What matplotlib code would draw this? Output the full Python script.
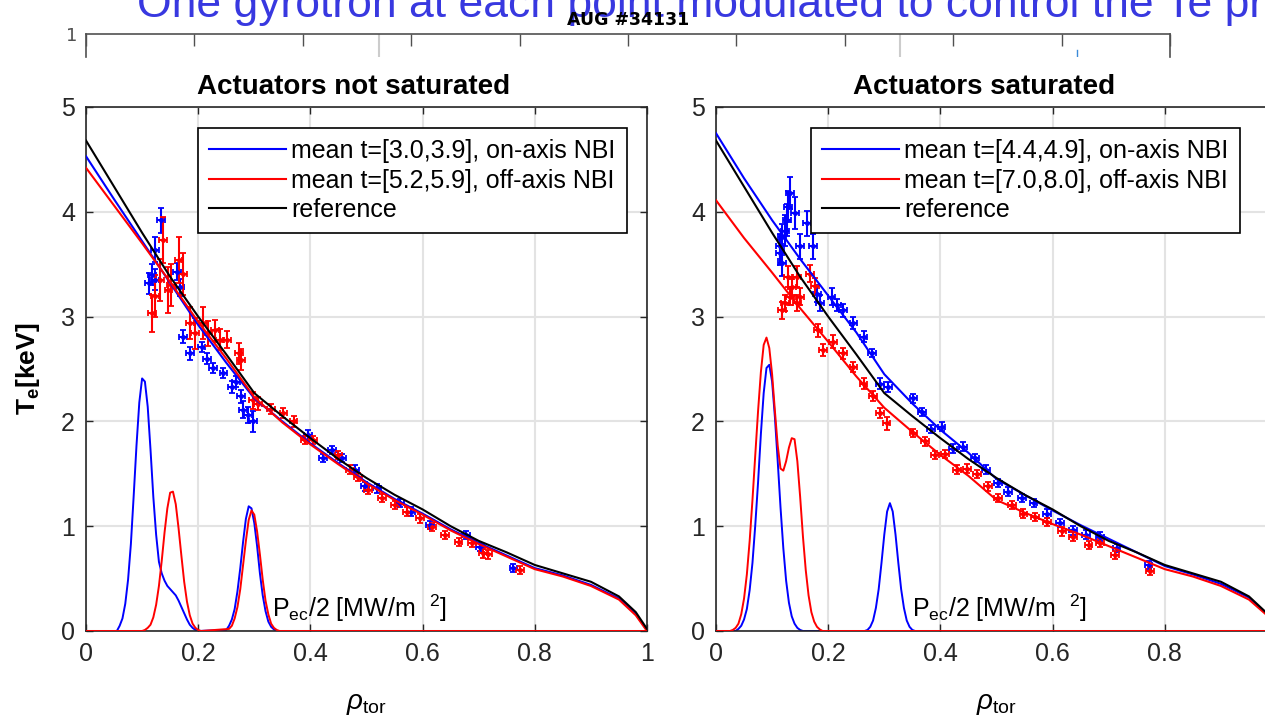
import matplotlib.pyplot as plt

plt.rcParams['font.family'] = ['Liberation Sans', 'DejaVu Sans']
plt.rcParams['mathtext.fontset'] = 'custom'
plt.rcParams['mathtext.rm'] = 'Liberation Sans'
plt.rcParams['mathtext.it'] = 'Liberation Sans:italic'
plt.rcParams['mathtext.bf'] = 'Liberation Sans:bold'

# ---- Te profile fits (rho_tor grid) ----
rho = [0.0, 0.05, 0.1, 0.15, 0.2, 0.25, 0.3, 0.35, 0.4, 0.45, 0.5, 0.55,
       0.6, 0.65, 0.7, 0.75, 0.8, 0.85, 0.9, 0.95, 0.98, 1.0]
te_ref = [4.68, 4.24, 3.80, 3.38, 3.00, 2.64, 2.27, 2.05, 1.84, 1.64, 1.46, 1.30,
          1.16, 1.00, 0.86, 0.75, 0.63, 0.55, 0.47, 0.33, 0.18, 0.02]
te_left_on = [4.53, 4.12, 3.72, 3.32, 2.92, 2.56, 2.22, 2.00, 1.79, 1.60, 1.42, 1.26,
              1.12, 0.97, 0.84, 0.72, 0.60, 0.53, 0.44, 0.31, 0.16, 0.01]
te_left_off = [4.42, 4.06, 3.70, 3.33, 2.95, 2.60, 2.23, 1.99, 1.78, 1.59, 1.41, 1.25,
               1.11, 0.96, 0.83, 0.71, 0.59, 0.52, 0.43, 0.30, 0.15, 0.0]
te_right_on = [4.75, 4.32, 3.92, 3.55, 3.20, 2.85, 2.45, 2.17, 1.92, 1.70, 1.45, 1.30,
               1.15, 1.01, 0.88, 0.75, 0.62, 0.54, 0.45, 0.32, 0.17, 0.02]
te_right_off = [4.11, 3.75, 3.42, 3.08, 2.76, 2.43, 2.13, 1.90, 1.68, 1.48, 1.25, 1.13,
                1.02, 0.92, 0.81, 0.70, 0.59, 0.52, 0.43, 0.30, 0.16, 0.01]

# ---- measured Te points ----
l_on_x = [0.113, 0.117, 0.123, 0.123, 0.134, 0.162, 0.168, 0.173, 0.185, 0.206, 0.215,
          0.227, 0.245, 0.260, 0.268, 0.277, 0.280, 0.289, 0.298, 0.396, 0.423, 0.438,
          0.456, 0.480, 0.497, 0.518, 0.560, 0.580, 0.613, 0.678, 0.702, 0.762]
l_on_y = [3.32, 3.40, 3.64, 3.35, 3.92, 3.43, 3.28, 2.81, 2.65, 2.71, 2.60,
          2.51, 2.46, 2.33, 2.38, 2.24, 2.11, 2.06, 2.00, 1.87, 1.65, 1.73,
          1.65, 1.54, 1.38, 1.36, 1.22, 1.14, 1.01, 0.915, 0.80, 0.60]
l_on_e = [0.10, 0.10, 0.12, 0.10, 0.12, 0.08, 0.08, 0.06, 0.06, 0.05, 0.05,
          0.05, 0.05, 0.06, 0.05, 0.06, 0.08, 0.08, 0.10, 0.05, 0.04, 0.04,
          0.04, 0.04, 0.04, 0.04, 0.04, 0.04, 0.04, 0.04, 0.04, 0.04]

l_off_x = [0.117, 0.123, 0.132, 0.138, 0.147, 0.152, 0.165, 0.173, 0.185, 0.194, 0.209,
           0.218, 0.230, 0.239, 0.251, 0.272, 0.277, 0.298, 0.307, 0.330, 0.352, 0.370,
           0.390, 0.405, 0.450, 0.471, 0.485, 0.503, 0.527, 0.551, 0.572, 0.595, 0.616,
           0.640, 0.664, 0.688, 0.708, 0.717, 0.774]
l_off_y = [3.03, 3.20, 3.35, 3.73, 3.25, 3.30, 3.54, 3.41, 2.94, 2.84, 2.94,
           2.84, 2.87, 2.78, 2.78, 2.65, 2.59, 2.20, 2.17, 2.12, 2.08, 2.00,
           1.82, 1.82, 1.68, 1.54, 1.47, 1.35, 1.27, 1.20, 1.14, 1.075, 0.995,
           0.915, 0.85, 0.84, 0.74, 0.73, 0.58]
l_off_e = [0.18, 0.20, 0.20, 0.22, 0.22, 0.20, 0.22, 0.20, 0.15, 0.15, 0.15,
           0.12, 0.10, 0.10, 0.08, 0.10, 0.10, 0.08, 0.06, 0.05, 0.05, 0.05,
           0.04, 0.04, 0.04, 0.04, 0.04, 0.04, 0.04, 0.04, 0.04, 0.04, 0.04,
           0.04, 0.04, 0.04, 0.04, 0.04, 0.04]

r_on_x = [0.114, 0.114, 0.117, 0.117, 0.123, 0.126, 0.129, 0.132, 0.141, 0.150, 0.162,
          0.173, 0.180, 0.185, 0.206, 0.215, 0.227, 0.245, 0.263, 0.278, 0.292, 0.307,
          0.352, 0.367, 0.384, 0.402, 0.423, 0.441, 0.462, 0.482, 0.503, 0.521, 0.545,
          0.566, 0.590, 0.613, 0.637, 0.660, 0.684, 0.714, 0.771]
r_on_y = [3.61, 3.67, 3.51, 3.76, 3.82, 3.92, 4.05, 4.18, 3.99, 3.67, 3.89,
          3.67, 3.22, 3.13, 3.19, 3.11, 3.06, 2.94, 2.81, 2.65, 2.36, 2.33,
          2.22, 2.09, 1.93, 1.95, 1.74, 1.76, 1.65, 1.54, 1.41, 1.33, 1.27,
          1.22, 1.12, 1.03, 0.96, 0.92, 0.90, 0.79, 0.63]
r_on_e = [0.12, 0.12, 0.12, 0.12, 0.15, 0.15, 0.15, 0.15, 0.15, 0.12, 0.12,
          0.12, 0.08, 0.08, 0.08, 0.06, 0.06, 0.06, 0.05, 0.04, 0.05, 0.05,
          0.04, 0.04, 0.04, 0.04, 0.04, 0.04, 0.04, 0.04, 0.04, 0.04, 0.04,
          0.04, 0.04, 0.04, 0.04, 0.04, 0.04, 0.04, 0.04]

r_off_x = [0.117, 0.123, 0.129, 0.132, 0.135, 0.144, 0.144, 0.150, 0.168, 0.176, 0.182,
           0.191, 0.209, 0.227, 0.245, 0.263, 0.280, 0.292, 0.304, 0.352, 0.373, 0.390,
           0.408, 0.429, 0.447, 0.465, 0.485, 0.503, 0.527, 0.548, 0.569, 0.590, 0.616,
           0.637, 0.664, 0.684, 0.711, 0.774]
r_off_y = [3.06, 3.13, 3.38, 3.19, 3.28, 3.38, 3.13, 3.19, 3.41, 3.29, 2.87,
           2.68, 2.76, 2.65, 2.52, 2.36, 2.24, 2.08, 1.98, 1.89, 1.81, 1.68,
           1.69, 1.54, 1.55, 1.50, 1.38, 1.27, 1.20, 1.12, 1.09, 1.04, 0.95,
           0.90, 0.82, 0.84, 0.725, 0.57]
r_off_e = [0.08, 0.08, 0.10, 0.08, 0.08, 0.10, 0.08, 0.08, 0.08, 0.08, 0.06,
           0.06, 0.06, 0.05, 0.05, 0.05, 0.05, 0.05, 0.06, 0.04, 0.04, 0.04,
           0.04, 0.04, 0.04, 0.04, 0.04, 0.04, 0.04, 0.04, 0.04, 0.04, 0.04,
           0.04, 0.04, 0.04, 0.04, 0.04]

# ---- ECRH power deposition Pec/2 ----
pec_l_on_x = [0.0, 0.055, 0.06, 0.065, 0.07, 0.075, 0.08, 0.085, 0.09, 0.095, 0.10, 0.105,
              0.11, 0.115, 0.12, 0.125, 0.13, 0.135, 0.14, 0.145, 0.15, 0.155, 0.16,
              0.165, 0.17, 0.175, 0.18, 0.185, 0.19, 0.195, 0.20,
              0.25, 0.255, 0.26, 0.265, 0.27, 0.275, 0.28, 0.285, 0.29, 0.295, 0.30,
              0.305, 0.31, 0.315, 0.32, 0.325, 0.33, 0.335, 0.34, 0.5]
pec_l_on = [0.0, 0.0, 0.05, 0.12, 0.26, 0.49, 0.83, 1.29, 1.77, 2.18, 2.41, 2.38,
            2.14, 1.73, 1.28, 0.92, 0.66, 0.55, 0.48, 0.43, 0.40, 0.37, 0.34,
            0.29, 0.23, 0.17, 0.11, 0.06, 0.03, 0.01, 0.0,
            0.01, 0.05, 0.11, 0.21, 0.38, 0.60, 0.85, 1.07, 1.19, 1.17, 1.03,
            0.81, 0.55, 0.34, 0.19, 0.09, 0.04, 0.015, 0.0, 0.0]
pec_l_off_x = [0.0, 0.10, 0.105, 0.11, 0.115, 0.12, 0.125, 0.13, 0.135, 0.14, 0.145,
               0.15, 0.155, 0.16, 0.165, 0.17, 0.175, 0.18, 0.185, 0.19, 0.195, 0.20,
               0.205, 0.255, 0.26, 0.265, 0.27, 0.275, 0.28, 0.285, 0.29, 0.295,
               0.30, 0.305, 0.31, 0.315, 0.32, 0.325, 0.33, 0.335, 0.34, 0.345, 1.0]
pec_l_off = [0.0, 0.0, 0.01, 0.03, 0.06, 0.13, 0.25, 0.43, 0.67, 0.94, 1.17,
             1.32, 1.33, 1.21, 0.98, 0.72, 0.47, 0.28, 0.15, 0.07, 0.03, 0.01,
             0.0, 0.02, 0.05, 0.12, 0.23, 0.40, 0.63, 0.86, 1.06, 1.15,
             1.11, 0.95, 0.73, 0.49, 0.29, 0.16, 0.07, 0.03, 0.01, 0.0, 0.0]

pec_r_on_x = [0.0, 0.035, 0.04, 0.045, 0.05, 0.055, 0.06, 0.065, 0.07, 0.075, 0.08,
              0.085, 0.09, 0.095, 0.10, 0.105, 0.11, 0.115, 0.12, 0.125, 0.13, 0.135,
              0.14, 0.145, 0.15, 0.155, 0.265, 0.27, 0.275, 0.28, 0.285, 0.29, 0.295,
              0.30, 0.305, 0.31, 0.315, 0.32, 0.325, 0.33, 0.335, 0.34, 0.345, 0.35,
              0.355, 0.5]
pec_r_on = [0.0, 0.0, 0.02, 0.05, 0.11, 0.21, 0.39, 0.65, 1.01, 1.42, 1.88,
            2.27, 2.51, 2.54, 2.38, 2.04, 1.62, 1.18, 0.79, 0.48, 0.27, 0.14,
            0.07, 0.03, 0.01, 0.0, 0.0, 0.01, 0.04, 0.10, 0.22, 0.40, 0.65,
            0.92, 1.14, 1.22, 1.14, 0.92, 0.65, 0.40, 0.22, 0.10, 0.04, 0.01,
            0.0, 0.0]
pec_r_off_x = [0.0, 0.025, 0.03, 0.035, 0.04, 0.045, 0.05, 0.055, 0.06, 0.065, 0.07,
               0.075, 0.08, 0.085, 0.09, 0.095, 0.10, 0.105, 0.11, 0.115, 0.12, 0.125,
               0.13, 0.135, 0.14, 0.145, 0.15, 0.155, 0.16, 0.165, 0.17, 0.175, 0.18,
               0.185, 0.19, 1.0]
pec_r_off = [0.0, 0.0, 0.01, 0.03, 0.07, 0.16, 0.31, 0.54, 0.86, 1.25, 1.68,
             2.10, 2.47, 2.73, 2.80, 2.70, 2.45, 2.10, 1.77, 1.55, 1.53, 1.62,
             1.75, 1.84, 1.83, 1.62, 1.28, 0.90, 0.58, 0.34, 0.18, 0.09, 0.04,
             0.015, 0.0, 0.0]

labels_left = ['mean t=[3.0,3.9], on-axis NBI', 'mean t=[5.2,5.9], off-axis NBI', 'reference']
labels_right = ['mean t=[4.4,4.9], on-axis NBI', 'mean t=[7.0,8.0], off-axis NBI', 'reference']
xtick_vals = [0, 0.2, 0.4, 0.6, 0.8, 1]
xtick_text = ['0', '0.2', '0.4', '0.6', '0.8', '1']
ytick_vals = [0, 1, 2, 3, 4, 5]

W, H = 1265, 720
fig = plt.figure(figsize=(W / 100, H / 100), dpi=100)


def box(x0, y0, x1, y1):
    # pixel box with y measured from the top
    return [x0 / W, 1 - y1 / H, (x1 - x0) / W, (y1 - y0) / H]


# strip of an axis peeking out at the top of the slide
top = fig.add_axes(box(86, 34, 1170, 57))
top.set_xlim(0, 10)
top.set_ylim(0, 1)
top.spines['bottom'].set_visible(False)
for s in ['top', 'left', 'right']:
    top.spines[s].set_color('#505050')
    top.spines[s].set_linewidth(1.2)
top.xaxis.tick_top()
top.set_xticks(range(11))
top.set_xticklabels([])
top.tick_params(axis='x', direction='in', length=8.5, width=1.0, color='#505050')
top.set_yticks([1])
top.set_yticklabels(['1'], fontsize=13, color='#505050', family='DejaVu Sans')
top.tick_params(axis='y', length=0, pad=6)
top.axvline(2.70, color='#cccccc', lw=1.5)
top.axvline(7.51, color='#cccccc', lw=1.5)
top.plot([9.14, 9.14], [0, 0.3], color='#3c8ad8', lw=1)
top.patch.set_alpha(0)

fig.text(137 / W, 1 - 17 / H, 'One gyrotron at each point modulated to control the Te profile',
         color='#3838e0', fontsize=32, va='baseline', ha='left')
fig.text(628 / W, 1 - 20 / H, 'AUG #34131', fontsize=12.5, family='DejaVu Sans',
         fontweight='bold', ha='center', va='center', color='black')


def panel(ax, title, te_on, te_off, on, off, pec_on, pec_on_x, pec_off, pec_off_x, labels, pec_x):
    ax.set_xlim(0, 1)
    ax.set_ylim(0, 5)
    ax.grid(True, color='#e3e3e3', lw=1.5)
    ax.set_axisbelow(True)
    ax.plot(pec_on_x, pec_on, color='#0000ff', lw=1.4, zorder=2.5)
    ax.plot(pec_off_x, pec_off, color='#ff0000', lw=1.4, zorder=2.6)
    for (px, py, pe), c in zip([on, off], ['#0000ff', '#ff0000']):
        ax.errorbar(px, py, yerr=pe, xerr=0.007, fmt='.', color=c, ms=5,
                    elinewidth=1.5, capsize=2.5, capthick=1.3, zorder=3)
    l1, = ax.plot(rho, te_on, color='#0000ff', lw=1.5, zorder=4)
    l2, = ax.plot(rho, te_off, color='#ff0000', lw=1.5, zorder=4)
    l3, = ax.plot(rho, te_ref, color='black', lw=1.5, zorder=4)
    ax.set_xticks(xtick_vals)
    ax.set_xticklabels(xtick_text)
    ax.set_yticks(ytick_vals)
    ax.tick_params(direction='in', length=5, width=1, top=True, right=True,
                   labelsize=18, colors='#262626', pad=8)
    for s in ax.spines.values():
        s.set_color('#262626')
        s.set_linewidth(1.2)
    ax.set_title(title, fontsize=20, fontweight='bold', pad=9.5, x=0.477)
    ax.set_xlabel(r'$\it{\rho}_{\rm tor}$', fontsize=20)
    ax.xaxis.set_label_coords(0.5, -0.115)
    ax.text(pec_x, 0.13, 'P$_{\\rm ec}$/2 [MW/m  $^{2}$]', fontsize=18, va='baseline')
    return [l1, l2, l3]


leg_kw = dict(loc='upper right', fontsize=18, handlelength=3.1, handletextpad=0.2,
              labelspacing=0.22, borderpad=0.45, borderaxespad=0, fancybox=False,
              framealpha=1, edgecolor='black')

axl = fig.add_axes(box(86, 107, 647, 631))
hl = panel(axl, 'Actuators not saturated', te_left_on, te_left_off,
           (l_on_x, l_on_y, l_on_e), (l_off_x, l_off_y, l_off_e),
           pec_l_on, pec_l_on_x, pec_l_off, pec_l_off_x, labels_left, 0.332)
axl.set_ylabel('T$_\\mathbf{e}$[keV]', fontsize=19, fontweight='bold')
axl.yaxis.set_label_coords(-0.078, 0.5)
axl.legend(hl, labels_left, bbox_to_anchor=(0.964, 0.960), **leg_kw).get_frame().set_linewidth(1.2)

axr = fig.add_axes(box(716, 107, 1277, 631))
hr = panel(axr, 'Actuators saturated', te_right_on, te_right_off,
           (r_on_x, r_on_y, r_on_e), (r_off_x, r_off_y, r_off_e),
           pec_r_on, pec_r_on_x, pec_r_off, pec_r_off_x, labels_right, 0.349)
axr.legend(hr, labels_right, bbox_to_anchor=(0.934, 0.960), **leg_kw).get_frame().set_linewidth(1.2)

fig.savefig('out.png', dpi=100)
